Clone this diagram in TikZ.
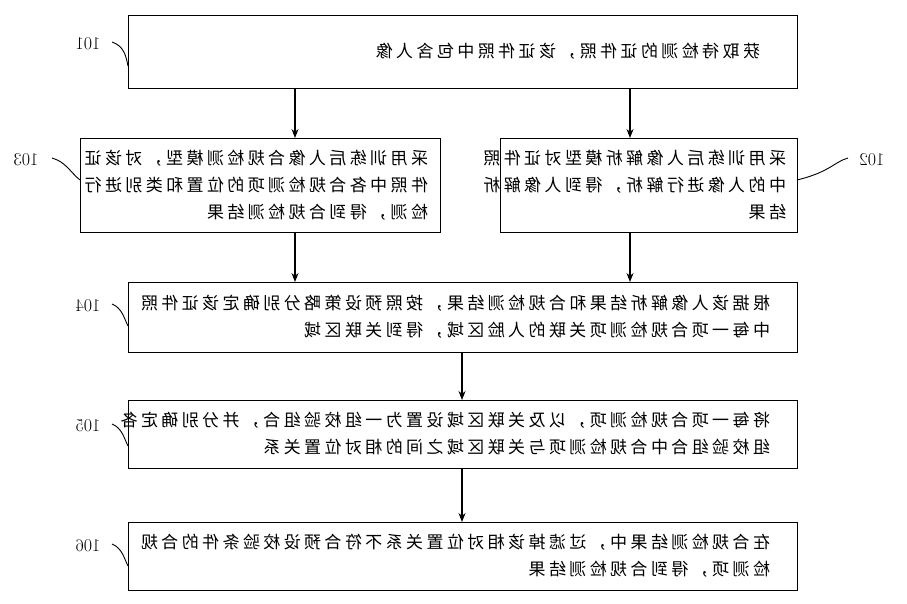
\documentclass[tikz,border=0pt]{standalone}
\usetikzlibrary{arrows.meta}
\usepackage{fontspec}
\newfontfamily\cjk{Noto Sans CJK SC}[LetterSpace=20]
\begin{document}
\begin{tikzpicture}[x=1pt,y=-1pt,
 box/.style={draw,line width=0.9pt},
 txt/.style={xscale=-1,font=\cjk\fontsize{17}{27}\selectfont,align=left,inner sep=0pt},
 lab/.style={xscale=-1,font=\fontsize{18}{18}\selectfont,inner sep=1pt},
 arr/.style={-{Stealth[length=9pt,width=7pt]},line width=1.2pt},
 tick/.style={line width=0.9pt}]
\useasboundingbox (0,0) rectangle (907,604);
% boxes
\draw[box] (128,15) rectangle (797,88);
\draw[box] (80,138) rectangle (440,232);
\draw[box] (500,138) rectangle (797,232);
\draw[box] (128,282) rectangle (797,352);
\draw[box] (128,400) rectangle (797,468);
\draw[box] (128,522) rectangle (797,590);
\coordinate (b1) at (462,51); \coordinate (b3) at (256,185); \coordinate (b2) at (646,185);
\coordinate (b4) at (462,317); \coordinate (b5) at (462,434); \coordinate (b6) at (462,556);
\node[txt,text width=596] (t1) at (b1) {获取待检测的证件照，该证件照中包含人像};
\node[txt,text width=344] (t3) at (b3) {采用训练后人像合规检测模型，对该证\\件照中各合规检测项的位置和类别进行\\检测，得到合规检测结果};
\node[txt,text width=280] (t2) at (b2) {采用训练后人像解析模型对证件照\\中的人像进行解析，得到人像解析\\结果};
\node[txt,text width=616] (t4) at (b4) {根据该人像解析结果和合规检测结果，按照预设策略分别确定该证件照\\中每一项合规检测项关联的人脸区域，得到关联区域};
\node[txt,text width=616] (t5) at (b5) {将每一项合规检测项，以及关联区域设置为一组校验组合，并分别确定各\\组校验组合中合规检测项与关联区域之间的相对位置关系};
\node[txt,text width=616] (t6) at (b6) {在合规检测结果中，过滤掉该相对位置关系不符合预设校验条件的合规\\检测项，得到合规检测结果};
% arrows
\coordinate (a1) at (295,88); \coordinate (a2) at (295,138);
\coordinate (a3) at (630,88); \coordinate (a4) at (630,138);
\coordinate (a5) at (295,232); \coordinate (a6) at (295,282);
\coordinate (a7) at (630,232); \coordinate (a8) at (630,282);
\coordinate (a9) at (462,352); \coordinate (a10) at (462,400);
\coordinate (a11) at (462,468); \coordinate (a12) at (462,522);
\draw[arr] (a1)--(a2); \draw[arr] (a3)--(a4); \draw[arr] (a5)--(a6);
\draw[arr] (a7)--(a8); \draw[arr] (a9)--(a10); \draw[arr] (a11)--(a12);
% labels
\node[lab] (l1) at (88,44) {101};
\node[lab] (l3) at (26,160) {103};
\node[lab] (l2) at (872,160) {102};
\node[lab] (l4) at (88,306) {104};
\node[lab] (l5) at (88,426) {105};
\node[lab] (l6) at (88,546) {106};
\draw[tick] (112,42) .. controls (124,46) and (126,56) .. (128,66);
\draw[tick] (52,158) .. controls (66,162) and (70,172) .. (80,180);
\draw[tick] (848,158) .. controls (834,162) and (830,172) .. (797,180);
\draw[tick] (112,304) .. controls (122,308) and (124,318) .. (128,326);
\draw[tick] (112,424) .. controls (122,428) and (124,438) .. (128,446);
\draw[tick] (112,544) .. controls (122,548) and (124,558) .. (128,566);
\end{tikzpicture}
\end{document}
